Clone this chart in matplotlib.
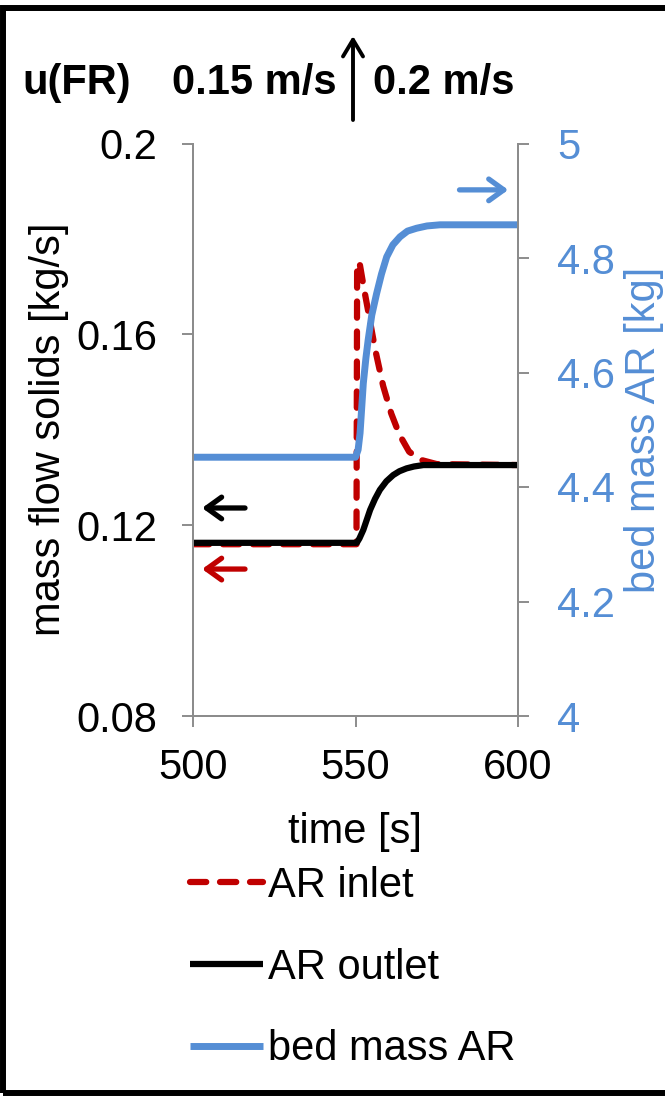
import matplotlib.pyplot as plt
from matplotlib.patches import Rectangle

plt.rcParams['font.family'] = ['Liberation Sans', 'DejaVu Sans']
plt.rcParams['font.size'] = 30

# AR response to the FR velocity step (0.15 -> 0.2 m/s) at t = 550 s
t_in = [500, 550.3, 550.5, 551.2, 552.5, 554.0, 556.0, 558.5, 561.0, 563.5, 566.5, 570.0, 575.0, 600]
m_in = [0.1160, 0.1160, 0.1745, 0.1752, 0.1700, 0.1645, 0.1570, 0.1492, 0.1434, 0.1390, 0.1354, 0.1337, 0.1328, 0.1326]

t_out = [500, 550.4, 551.2, 552.4, 553.4, 554.5, 556.0, 557.5, 559.5, 561.6, 563.5, 565.7, 568.0, 570.9, 600]
m_out = [0.1163, 0.1163, 0.1172, 0.1190, 0.1210, 0.1232, 0.1255, 0.1274, 0.1292, 0.1305, 0.1313, 0.1319, 0.1323, 0.1326, 0.1326]

t_bed = [500, 550.0, 550.8, 551.4, 552.4, 553.2, 553.9, 555.0, 556.5, 558.0, 559.6, 561.5,
         563.7, 566.0, 568.8, 572.0, 576.0, 600]
bed = [4.452, 4.452, 4.465, 4.494, 4.581, 4.625, 4.657, 4.700, 4.738, 4.772, 4.802, 4.823,
       4.837, 4.847, 4.852, 4.856, 4.858, 4.858]

left_ticks = [0.08, 0.12, 0.16, 0.2]
left_labels = ['0.08', '0.12', '0.16', '0.2']
right_ticks = [4, 4.2, 4.4, 4.6, 4.8, 5]
right_labels = ['4', '4.2', '4.4', '4.6', '4.8', '5']
x_ticks = [500, 550, 600]

RED = '#C00000'
BLUE = '#558ED5'
GRAY = '#8C8C8C'

W, H = 665, 1096
fig = plt.figure(figsize=(W / 100, H / 100), dpi=100)
ax = fig.add_axes([193 / W, 1 - 716 / H, 325 / W, 572.5 / H])
ax2 = ax.twinx()

l_in, = ax.plot(t_in, m_in, color=RED, lw=4.5, dashes=(2.6, 2.2),
                dash_capstyle='round', label='AR inlet')
l_out, = ax.plot(t_out, m_out, color='black', lw=4.5, solid_capstyle='butt',
                 label='AR outlet')
l_bed, = ax2.plot(t_bed, bed, color=BLUE, lw=5, solid_capstyle='butt',
                  label='bed mass AR')

ax.set_xlim(500, 600)
ax.set_ylim(0.08, 0.2)
ax2.set_ylim(4, 5)
ax.set_xticks(x_ticks)
ax.set_yticks(left_ticks)
ax.set_yticklabels(left_labels)
ax2.set_yticks(right_ticks)
ax2.set_yticklabels(right_labels)

for a in (ax, ax2):
    a.spines['top'].set_visible(False)
    for s in ('left', 'right', 'bottom'):
        a.spines[s].set_color(GRAY)
        a.spines[s].set_linewidth(1.4)
ax.tick_params(axis='y', direction='out', length=8, width=1.4, color=GRAY, pad=18)
ax.tick_params(axis='x', direction='out', length=8, width=1.4, color=GRAY, pad=15)
ax2.tick_params(axis='y', direction='out', length=8, width=1.4, color=GRAY, pad=20,
                labelcolor=BLUE)

ax.set_xlabel('time [s]')
ax.xaxis.set_label_coords(0.5, -0.168)
ax.set_ylabel('mass flow solids [kg/s]')
ax.yaxis.set_label_coords(-0.38, 0.5)
ax2.set_ylabel('bed mass AR [kg]', color=BLUE)
ax2.yaxis.set_label_coords(1.325, 0.5)

# which axis each curve belongs to
arrow = '->,head_length=0.36,head_width=0.26'
ax.annotate('', xy=(502.8, 0.1236), xytext=(516, 0.1236),
            arrowprops=dict(arrowstyle=arrow, lw=3.8, color='black',
                            shrinkA=0, shrinkB=0))
ax.annotate('', xy=(502.8, 0.1108), xytext=(516, 0.1108),
            arrowprops=dict(arrowstyle=arrow, lw=3.8, color=RED,
                            shrinkA=0, shrinkB=0))
ax2.annotate('', xy=(597, 4.919), xytext=(582, 4.919),
             arrowprops=dict(arrowstyle=arrow, lw=3.8, color=BLUE,
                             shrinkA=0, shrinkB=0))

# header: fluidization velocity step in the FR
base = 1 - 94 / H
fig.text(22 / W, base, 'u(FR)', weight='bold', va='baseline')
fig.text(172 / W, base, '0.15 m/s', weight='bold', va='baseline')
fig.text(373 / W, base, '0.2 m/s', weight='bold', va='baseline')
ax.annotate('', xy=(353 / W, 1 - 36 / H), xytext=(353 / W, 1 - 120 / H),
            xycoords='figure fraction', textcoords='figure fraction',
            arrowprops=dict(arrowstyle='->,head_length=0.4,head_width=0.24',
                            lw=2.8, color='black', shrinkA=0, shrinkB=0))

fig.legend(handles=[l_in, l_out, l_bed], loc='upper left',
           bbox_to_anchor=(190 / W, 1 - 866 / H), frameon=False,
           handlelength=1.75, handletextpad=0.12, labelspacing=1.0,
           borderpad=0, borderaxespad=0)

# frame around the panel
fig.add_artist(Rectangle((3 / W, 3 / H), 1.2, 1 - 10.5 / H,
                         transform=fig.transFigure, fill=False,
                         lw=4.3, edgecolor='black', clip_on=False))

fig.savefig('out.png', dpi=100)
